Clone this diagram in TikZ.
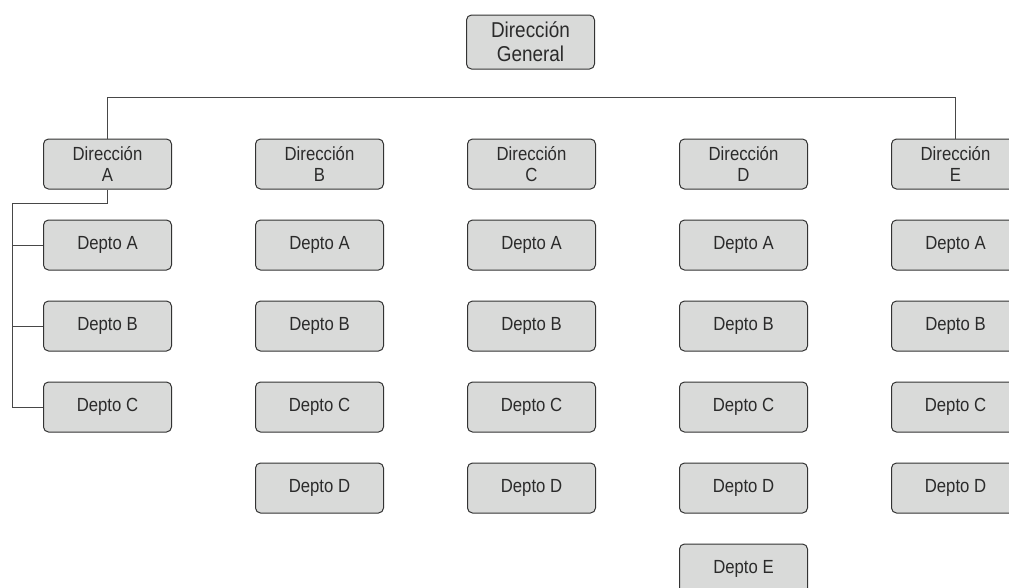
\documentclass[tikz,border=0pt]{standalone}
\usepackage{fontspec}
\setmainfont{Liberation Sans}[FakeStretch=0.88]
\definecolor{boxfill}{HTML}{D9DAD9}
\definecolor{boxline}{HTML}{333333}
\definecolor{inkgray}{HTML}{2B2B2B}
\tikzset{
  unit/.style={draw=boxline,fill=boxfill,rounded corners=5pt,minimum width=128pt,
    minimum height=50pt,inner sep=0pt,align=center,text=inkgray,
    font=\fontsize{19}{21}\selectfont,line width=1pt},
  link/.style={draw=boxline!90,line width=1pt}
}
\begin{document}
\begin{tikzpicture}[x=1pt,y=-1pt]
      \pgfmathsetmacro{\w}{212}
      \pgfmathsetmacro{\h}{81}
      \clip (0,0) rectangle (1009,587);

      \node[unit,minimum height=54pt,font=\fontsize{21.5}{24}\selectfont] (DG) at (530.5,42) {Dirección\\General};

      \node[unit] (DA) at (107.5,164) {Dirección\\A};
      \node[unit] (DB) at (107.5+\w,164) {Dirección\\B};
      \node[unit] (DC) at (107.5+\w*2,164) {Dirección\\C};
      \node[unit] (DD) at (107.5+\w*3,164) {Dirección\\D};
      \node[unit] (DE) at (107.5+\w*4,164) {Dirección\\E};

      \node[unit] (DA1) at (107.5,164+\h) {Depto A};
      \node[unit] (DA2) at (107.5,164+\h*2) {Depto B};
      \node[unit] (DA3) at (107.5,164+\h*3) {Depto C};

      \node[unit] (DB1) at (107.5+\w,164+\h) {Depto A};
      \node[unit] (DB2) at (107.5+\w,164+\h*2) {Depto B};
      \node[unit] (DB3) at (107.5+\w,164+\h*3) {Depto C};
      \node[unit] (DB4) at (107.5+\w,164+\h*4) {Depto D};

      \node[unit] (DC1) at (107.5+\w*2,164+\h) {Depto A};
      \node[unit] (DC2) at (107.5+\w*2,164+\h*2) {Depto B};
      \node[unit] (DC3) at (107.5+\w*2,164+\h*3) {Depto C};
      \node[unit] (DC4) at (107.5+\w*2,164+\h*4) {Depto D};

      \node[unit] (DD1) at (107.5+\w*3,164+\h) {Depto A};
      \node[unit] (DD2) at (107.5+\w*3,164+\h*2) {Depto B};
      \node[unit] (DD3) at (107.5+\w*3,164+\h*3) {Depto C};
      \node[unit] (DD4) at (107.5+\w*3,164+\h*4) {Depto D};
      \node[unit] (DD5) at (107.5+\w*3,164+\h*5) {Depto E};

      \node[unit] (DE1) at (107.5+\w*4,164+\h) {Depto A};
      \node[unit] (DE2) at (107.5+\w*4,164+\h*2) {Depto B};
      \node[unit] (DE3) at (107.5+\w*4,164+\h*3) {Depto C};
      \node[unit] (DE4) at (107.5+\w*4,164+\h*4) {Depto D};

      \coordinate (bar) at (0,97);
      \coordinate (rail) at (12,203);

      \draw[link] (DA.north) -- (DA.north |- bar) -- (DE.north |- bar) -- (DE.north);
      \draw[link] (DA.south) |- (rail) |- (DA3.west);
      \draw[link] (rail |- DA1) -- (DA1.west);
      \draw[link] (rail |- DA2) -- (DA2.west);
    \end{tikzpicture}
\end{document}
